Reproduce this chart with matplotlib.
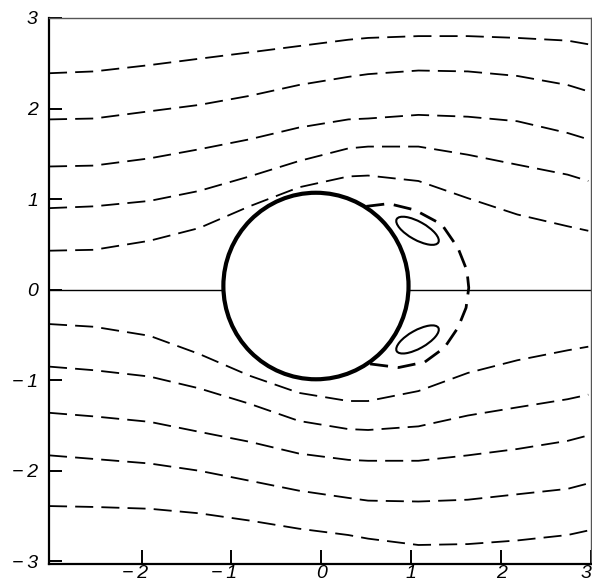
import matplotlib
matplotlib.use("Agg")
import matplotlib.pyplot as plt
from matplotlib.patches import Circle, Ellipse
from matplotlib.transforms import ScaledTranslation

# x positions at which the streamlines were read
xs = [-3.03, -2.53, -1.91, -1.36, -0.80, -0.25, 0.30, 0.52, 1.08, 1.63, 2.18, 2.74, 2.97]

# upper streamlines (dashed)
up1 = [2.39, 2.41, 2.48, 2.55, 2.62, 2.69, 2.76, 2.78, 2.80, 2.80, 2.78, 2.75, 2.71]
up2 = [1.88, 1.89, 1.97, 2.04, 2.14, 2.26, 2.35, 2.38, 2.42, 2.41, 2.36, 2.26, 2.19]
up3 = [1.36, 1.37, 1.45, 1.55, 1.66, 1.79, 1.88, 1.89, 1.93, 1.91, 1.86, 1.73, 1.66]
up4 = [0.90, 0.92, 0.98, 1.09, 1.25, 1.42, 1.56, 1.58, 1.58, 1.49, 1.38, 1.27, 1.20]
up5 = [0.43, 0.44, 0.54, 0.68, 0.92, 1.13, 1.25, 1.26, 1.20, 1.01, 0.83, 0.70, 0.65]

# lower streamlines (dashed)
lo1 = [-0.38, -0.41, -0.51, -0.71, -0.95, -1.14, -1.23, -1.23, -1.12, -0.92, -0.78, -0.67, -0.63]
lo2 = [-0.85, -0.89, -0.96, -1.09, -1.26, -1.45, -1.54, -1.55, -1.51, -1.39, -1.30, -1.21, -1.16]
lo3 = [-1.36, -1.40, -1.46, -1.57, -1.68, -1.81, -1.88, -1.89, -1.89, -1.83, -1.76, -1.67, -1.61]
lo4 = [-1.83, -1.87, -1.92, -2.00, -2.11, -2.22, -2.30, -2.33, -2.34, -2.32, -2.26, -2.20, -2.14]
lo5 = [-2.39, -2.40, -2.42, -2.47, -2.55, -2.64, -2.71, -2.75, -2.82, -2.81, -2.77, -2.71, -2.66]

# separation bubble (dashed, bold)
bub_x = [0.50, 0.75, 1.04, 1.34, 1.52, 1.62, 1.64, 1.61, 1.52, 1.37, 1.15, 0.86, 0.54]
bub_y = [0.92, 0.95, 0.88, 0.72, 0.46, 0.21, 0.02, -0.20, -0.42, -0.64, -0.80, -0.86, -0.82]

# cylinder
cyl_center = (-0.06, 0.04)
cyl_radius = 1.03

# eddies
eddy_centers = [(1.07, 0.65), (1.07, -0.55)]
eddy_width = 0.53
eddy_height = 0.20
eddy_angles = [-29, 29]

xticks = [-2, -1, 0, 1, 2, 3]
xticklabels = ["\u2212\u20092", "\u2212\u20091", "0", "1", "2", "3"]
yticks = [-3, -2, -1, 0, 1, 2, 3]
yticklabels = ["\u2212\u20093", "\u2212\u20092", "\u2212\u20091", "0", "1", "2", "3"]

fig = plt.figure(figsize=(5.92, 5.85), dpi=100)
ax = fig.add_axes([49/592, 21/585, 542/592, 546/585])
ax.set_xlim(-3.03, 2.97)
ax.set_ylim(-3.03, 2.98)

ax.axhline(0, color="black", lw=1.0, zorder=1)

dash = (0, (10, 4.5))
for ys in [up1, up2, up3, up4, up5, lo1, lo2, lo3, lo4, lo5]:
    ax.plot(xs, ys, color="black", lw=1.3, linestyle=dash, zorder=2)

ax.plot(bub_x, bub_y, color="black", lw=2.0, linestyle=(0, (6.5, 3.5)), zorder=2)

ax.add_patch(Circle(cyl_center, cyl_radius, facecolor="white", edgecolor="black",
                    lw=3.0, zorder=3))
for c, a in zip(eddy_centers, eddy_angles):
    ax.add_patch(Ellipse(c, eddy_width, eddy_height, angle=a, facecolor="none",
                         edgecolor="black", lw=1.5, zorder=3))

for s in ["left", "bottom"]:
    ax.spines[s].set_linewidth(1.6)
    ax.spines[s].set_color("black")
for s in ["top", "right"]:
    ax.spines[s].set_linewidth(1.0)
    ax.spines[s].set_color("#555555")

ax.set_xticks(xticks)
ax.set_xticklabels(xticklabels)
ax.set_yticks(yticks)
ax.set_yticklabels(yticklabels)
ax.tick_params(axis="x", direction="in", length=10, width=1.4, pad=1)
ax.tick_params(axis="y", direction="in", length=9.5, width=1.4, pad=8)
for lab in ax.get_xticklabels() + ax.get_yticklabels():
    lab.set_fontfamily(["Liberation Sans", "DejaVu Sans"])
    lab.set_fontstyle("italic")
    lab.set_fontsize(14)

shift = ScaledTranslation(-5 / 72, 0, fig.dpi_scale_trans)
for lab in ax.get_xticklabels():
    if lab.get_text().startswith("\u2212"):
        lab.set_transform(lab.get_transform() + shift)
    if lab.get_text() == "3":
        lab.set_horizontalalignment("right")

fig.savefig("out.png", dpi=100, facecolor="white")
